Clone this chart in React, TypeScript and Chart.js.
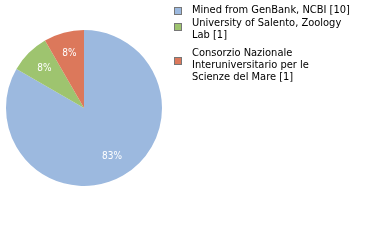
import React, { useEffect, useRef } from "react";
import { Chart, registerables } from "chart.js";

Chart.register(...registerables);

const categories = [
  "Mined from GenBank, NCBI [10]",
  "University of Salento, Zoology Lab [1]",
  "Consorzio Nazionale Interuniversitario per le Scienze del Mare [1]",
];
const legendLines = [
  ["Mined from GenBank, NCBI [10]"],
  ["University of Salento, Zoology", "Lab [1]"],
  ["Consorzio Nazionale", "Interuniversitario per le", "Scienze del Mare [1]"],
];
const values = [10, 1, 1];
const colors = ["#9cb9df", "#9ec46f", "#dc785b"];

const FONT = "'DejaVu Sans Condensed', 'DejaVu Sans', sans-serif";

const labelPlugin = {
  id: "pctLabels",
  afterDatasetsDraw(chart: any) {
    const ctx = chart.ctx;
    const meta = chart.getDatasetMeta(0);
    const data = chart.data.datasets[0].data as number[];
    const total = data.reduce((a, b) => a + b, 0);
    ctx.save();
    ctx.fillStyle = "#ffffff";
    ctx.font = `10px ${FONT}`;
    ctx.textAlign = "center";
    ctx.textBaseline = "middle";
    meta.data.forEach((arc: any, i: number) => {
      const { x, y, startAngle, endAngle, outerRadius } = arc.getProps(
        ["x", "y", "startAngle", "endAngle", "outerRadius"],
        true
      );
      const mid = (startAngle + endAngle) / 2;
      const r = outerRadius * 0.72;
      const txt = Math.round((data[i] / total) * 100) + "%";
      ctx.fillText(txt, x + Math.cos(mid) * r, y + Math.sin(mid) * r);
    });
    ctx.restore();
  },
};

const legendTops = [5, 18, 48];
const squareTops = [7, 23, 57];

export default function App() {
  const ref = useRef<HTMLCanvasElement>(null);
  useEffect(() => {
    document.body.style.margin = "0";
    const chart = new Chart(ref.current!, {
      type: "pie",
      data: {
        labels: categories,
        datasets: [
          {
            data: values,
            backgroundColor: colors,
            borderWidth: 0,
          },
        ],
      },
      options: {
        responsive: false,
        animation: false,
        layout: { padding: { left: 6, top: 30, right: 218, bottom: 54 } },
        plugins: { legend: { display: false }, tooltip: { enabled: false } },
      },
      plugins: [labelPlugin],
    });
    return () => chart.destroy();
  }, []);
  return (
    <div style={{ position: "relative", width: 380, height: 240, background: "#fff" }}>
      <canvas ref={ref} width={380} height={240} style={{ position: "absolute", left: 0, top: 0 }} />
      {legendLines.map((lines, i) => (
        <React.Fragment key={i}>
          <div
            style={{
              position: "absolute",
              left: 174,
              top: squareTops[i],
              width: 6,
              height: 6,
              border: "1px solid #777",
              background: colors[i],
            }}
          />
          <div
            style={{
              position: "absolute",
              left: 192,
              top: legendTops[i] - 1,
              fontFamily: FONT,
              fontSize: 11,
              lineHeight: "12px",
              color: "#000",
              whiteSpace: "nowrap",
            }}
          >
            {lines.map((l, j) => (
              <div key={j}>{l}</div>
            ))}
          </div>
        </React.Fragment>
      ))}
    </div>
  );
}
